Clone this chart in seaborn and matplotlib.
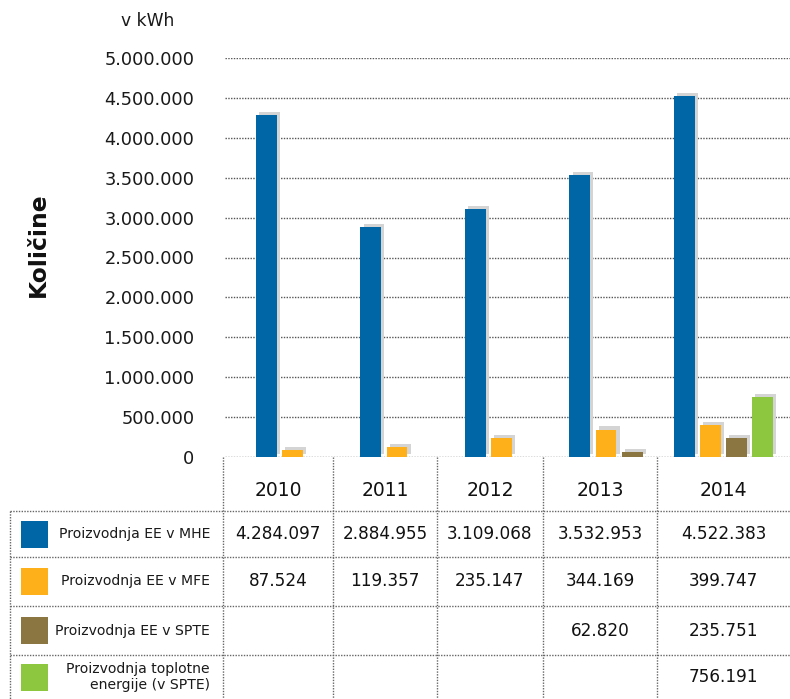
import numpy as np
import pandas as pd
import matplotlib
matplotlib.use("Agg")
import matplotlib.pyplot as plt
import matplotlib.patheffects as pe
from matplotlib.patches import Rectangle
import seaborn as sns

years = ["2010", "2011", "2012", "2013", "2014"]
series = ["Proizvodnja EE v MHE", "Proizvodnja EE v MFE", "Proizvodnja EE v SPTE",
          "Proizvodnja toplotne\nenergije (v SPTE)"]
mhe = [4284097, 2884955, 3109068, 3532953, 4522383]
mfe = [87524, 119357, 235147, 344169, 399747]
spte = [np.nan, np.nan, np.nan, 62820, 235751]
toplota = [np.nan, np.nan, np.nan, np.nan, 756191]
colors = ["#0066a6", "#fdb01a", "#8b7541", "#8dc63f"]
yticks = list(range(0, 5000001, 500000))

values = [mhe, mfe, spte, toplota]
rows = []
for s, vals in zip(series, values):
    for y, v in zip(years, vals):
        rows.append({"year": y, "series": s, "value": v})
df = pd.DataFrame(rows)

def fmt(v):
    return f"{v:,.0f}".replace(",", ".")

sns.set_theme(style="white")
plt.rcParams["font.family"] = ["DejaVu Sans"]

W, H = 790, 699
fig = plt.figure(figsize=(W / 100, H / 100), dpi=100)

# main bar axes
ax_l, ax_r, ax_b, ax_t = 225, 790, 457, 58
ax = fig.add_axes([ax_l / W, (H - ax_b) / H, (ax_r - ax_l) / W, (ax_b - ax_t) / H])
sns.barplot(data=df, x="year", y="value", hue="series", hue_order=series,
            palette=colors, width=1.0, gap=0.2, dodge=True, ax=ax,
            saturation=1, err_kws={"linewidth": 0}, legend=False)
shadow = [pe.SimplePatchShadow(offset=(2.2, 2.2), shadow_rgbFace="#d4d4d4", alpha=1.0), pe.Normal()]
for p in ax.patches:
    p.set_path_effects(shadow)
    p.set_edgecolor("none")
    p.set_clip_on(False)

x0 = 305.6
step = 104.5
ax.set_xlim((ax_l - x0) / step, (ax_r - x0) / step)
ax.set_ylim(0, 5000000)
ax.set_yticks(yticks)
ax.set_yticklabels([fmt(v) for v in yticks], fontsize=12.8, color="#1a1a1a")
ax.set_xticks([])
ax.set_xlabel("")
ax.set_ylabel("")
ax.tick_params(axis="y", length=0, pad=22)
for sp in ax.spines.values():
    sp.set_visible(False)
ax.yaxis.grid(True, linestyle=(0, (1, 1)), color="#555555", linewidth=1.0)
ax.set_axisbelow(True)

# overlay axes in pixel coords for table and texts
ov = fig.add_axes([0, 0, 1, 1])
ov.set_xlim(0, W)
ov.set_ylim(H, 0)
ov.axis("off")
ov.patch.set_alpha(0)

ov.text(148, 21, "v kWh", fontsize=12.3, ha="center", va="center", color="#1a1a1a")
ov.text(38, 245, "Količine", fontsize=16.8, fontweight="bold", rotation=90,
        ha="center", va="center", color="#111111")

dot = dict(color="#666666", linewidth=1.0, linestyle=(0, (1, 1)))
col_edges = [223, 333, 437, 543, 657, 790]
row_edges = [511, 557, 606, 655, 699]
for xe in col_edges[:-1]:
    ov.plot([xe, xe], [457, 699], **dot)
ov.plot([10, 10], [511, 699], **dot)
for ye in row_edges[:-1]:
    ov.plot([10, 790], [ye, ye], **dot)

for i, y in enumerate(years):
    cx = (col_edges[i] + col_edges[i + 1]) / 2
    ov.text(cx, 490, y, fontsize=13.5, ha="center", va="center", color="#111111")

for r, (s, vals, c) in enumerate(zip(series, values, colors)):
    cy = (row_edges[r] + row_edges[r + 1]) / 2
    ov.add_patch(Rectangle((21, cy - 13.5), 27, 27, facecolor=c, edgecolor="none"))
    ov.text(210, cy, s, fontsize=10.1, ha="right", va="center", color="#1a1a1a",
            linespacing=1.15)
    for i, v in enumerate(vals):
        if not np.isnan(v):
            cx = (col_edges[i] + col_edges[i + 1]) / 2
            ov.text(cx, cy, fmt(v), fontsize=12.2, ha="center", va="center", color="#111111")

fig.savefig("out.png", dpi=100)
